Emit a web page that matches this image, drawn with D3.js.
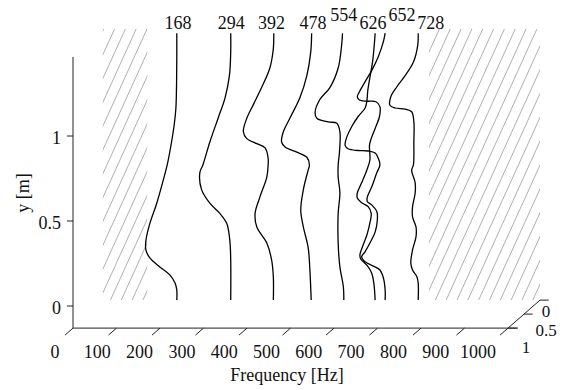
<!DOCTYPE html>
<html><head><meta charset="utf-8">
<script src="https://cdn.jsdelivr.net/npm/d3@7/dist/d3.min.js"></script>
<style>body{margin:0;background:#fff}svg{display:block}</style>
</head><body>
<script>
// ---- data (frequency [Hz], y [m]) ----
const curveLabels = ["168","294","392","478","554","626","652","728"];
const labelFreq = [168, 290, 383, 478, 549, 616, 683, 749];
const labelLevel = [1.465, 1.465, 1.465, 1.465, 1.51, 1.465, 1.51, 1.465];
const freqTicks = [0,100,200,300,400,500,600,700,800,900,1000];
const yTicks = [0, 0.5, 1];
const depthTicks = [0, 0.5, 1];
const hatchRanges = [[-5, 97], [745, 1000]];

const curve168 = [[165,1.44],[165,1.29],[163,1.00],[159,0.90],[153,0.80],[143,0.665],[134,0.576],[119,0.44],[103,0.32],[94,0.22],[94,0.165],[103,0.118],[126,0.065],[149,0.018],[161,-0.03],[165,-0.07],[165,-0.13]];
const curve294 = [[289,1.44],[289,1.33],[286,1.19],[276,1.06],[260,0.94],[241,0.80],[225,0.665],[218,0.62],[222,0.52],[241,0.44],[264,0.38],[280,0.32],[287,0.22],[289,0.106],[289,-0.13]];
const curve392 = [[388,1.44],[387,1.35],[379,1.235],[360,1.12],[341,1.02],[326,0.94],[318,0.86],[326,0.82],[349,0.79],[368,0.765],[375,0.706],[375,0.665],[372,0.594],[356,0.476],[345,0.38],[349,0.30],[372,0.206],[383,0.106],[387,0.006],[387,-0.13]];
const curve478 = [[475,1.44],[473,1.33],[464,1.19],[448,1.06],[425,0.94],[410,0.86],[406,0.80],[414,0.77],[441,0.74],[464,0.71],[470,0.665],[467,0.635],[456,0.52],[450,0.40],[456,0.30],[467,0.18],[471,0.047],[474,-0.13]];
const curve554 = [[546,1.44],[544,1.37],[536,1.235],[517,1.12],[494,1.05],[483,0.976],[487,0.94],[513,0.918],[533,0.91],[540,0.86],[539,0.74],[536,0.665],[536,0.594],[540,0.50],[536,0.38],[536,0.206],[540,0.065],[548,-0.053],[549,-0.13]];
const curve626 = [[621,1.44],[619,1.37],[615,1.27],[609,1.18],[604,1.10],[602,1.04],[598,1.00],[582,0.95],[567,0.89],[556,0.83],[552,0.78],[559,0.76],[582,0.75],[605,0.747],[621,0.735],[628,0.706],[632,0.665],[625,0.62],[613,0.535],[603,0.476],[603,0.45],[613,0.43],[625,0.39],[626,0.34],[621,0.27],[609,0.206],[598,0.155],[590,0.124],[598,0.096],[617,0.07],[632,0.047],[640,0.0],[644,-0.07],[644,-0.13]];
const curve652 = [[644,1.44],[640,1.39],[628,1.30],[613,1.22],[598,1.155],[585,1.096],[580,1.066],[585,1.047],[602,1.04],[623,1.037],[632,1.008],[631,0.95],[621,0.88],[612,0.82],[608,0.78],[609,0.694],[602,0.635],[590,0.56],[580,0.50],[580,0.47],[590,0.443],[605,0.42],[612,0.38],[609,0.324],[602,0.253],[592,0.184],[586,0.135],[588,0.112],[602,0.076],[613,0.03],[618,-0.03],[621,-0.13]];
const curve728 = [[720,1.44],[719,1.37],[709,1.27],[690,1.19],[671,1.125],[657,1.066],[655,1.016],[667,1.00],[690,0.994],[705,0.978],[710,0.92],[710,0.80],[709,0.665],[705,0.635],[713,0.56],[713,0.50],[707,0.42],[707,0.36],[715,0.30],[715,0.243],[707,0.165],[703,0.088],[707,0.047],[717,0.008],[720,-0.03],[720,-0.13]];
const curves = [curve168, curve294, curve392, curve478, curve554, curve626, curve652, curve728];

// ---- layout ----
const W = 565, H = 390;
const FONT = "'Liberation Serif', 'DejaVu Serif', 'Times New Roman', Times, serif";
const zMin = -0.13, zMax = 1.465;
const xF = d3.scaleLinear().domain([0, 1000]).range([73, 508]);
const yZ = d3.scaleLinear().domain([0, 1]).range([306, 136]);
const dX = d3.scaleLinear().domain([1, 0]).range([0, 32]);
const dY = d3.scaleLinear().domain([1, 0]).range([0, -28]);
const P = (f, d, z) => [xF(f) + dX(d), yZ(z) + dY(d)];
const xLab = d3.scaleLinear().domain([0, 1000]).range([55, 478]);

const svg = d3.select("body").append("svg").attr("width", W).attr("height", H)
  .attr("font-family", FONT);
svg.append("rect").attr("width", W).attr("height", H).attr("fill", "#fff");

const txt = (x, y, s, anchor, size) => svg.append("text").attr("x", x).attr("y", y)
  .attr("text-anchor", anchor || "middle").attr("font-family", FONT)
  .attr("font-size", size || 18).attr("fill", "#111").text(s);

// hatched back-plane regions
const defs = svg.append("defs");
hatchRanges.forEach((r, i) => {
  const a = P(r[0], 0, zMax), b = P(r[1], 0, zMin);
  defs.append("clipPath").attr("id", "hc" + i).append("rect")
    .attr("x", a[0]).attr("y", a[1]).attr("width", b[0] - a[0]).attr("height", b[1] - a[1]);
  const g = svg.append("g").attr("clip-path", `url(#hc${i})`);
  const step = 10.83, slope = 2.2;
  const topY = a[1] - 1;
  d3.range(-2, 40).forEach(k => {
    const xt = 115 + step * (k + Math.round((a[0] - 115) / step));
    if (xt > b[0] + 200) return;
    g.append("line")
      .attr("x1", xt).attr("y1", topY)
      .attr("x2", xt - (b[1] - topY + 2) / slope).attr("y2", b[1] + 2)
      .attr("stroke", "#9a9a9a").attr("stroke-width", 0.8);
  });
});

// axes
const axisCol = "#222";
const seg = (a, b) => svg.append("line").attr("x1", a[0]).attr("y1", a[1]).attr("x2", b[0]).attr("y2", b[1])
  .attr("stroke", axisCol).attr("stroke-width", 1);
seg(P(0, 1, zMin), P(0, 1, zMax));
seg(P(0, 1, zMin), P(1023, 1, zMin));
seg(P(1000, 1, zMin), P(1000, 0, zMin));

// y ticks
yTicks.forEach(t => {
  const a = P(0, 1, t), b = P(-14, 1, t);
  seg(a, b);
  txt(b[0] - 6, a[1] + 7.5, t, "end");
});
// x ticks
freqTicks.forEach(t => {
  seg(P(t, 1, zMin), P(t, 1.25, zMin));
  txt(xLab(t), 358, t);
});
// depth ticks
const depthLabelOffset = [[6, 17], [22, 22], [18, 25]];
depthTicks.forEach((t, i) => {
  const a = P(1000, t, zMin);
  seg(a, P(1020, t, zMin));
  txt(a[0] + depthLabelOffset[i][0], a[1] + depthLabelOffset[i][1], t, "middle", 17);
});

// axis titles
txt(287, 381, "Frequency [Hz]");
svg.append("text").attr("transform", "translate(29,193) rotate(-90)").attr("text-anchor", "middle")
  .attr("font-family", FONT).attr("font-size", 18).attr("fill", "#111").text("y [m]");

// curves
const line = d3.line()
  .x(d => P(d[0], 0, d[1])[0])
  .y(d => P(d[0], 0, d[1])[1])
  .curve(d3.curveCatmullRom.alpha(0.5));
svg.append("g").selectAll("path").data(curves).join("path")
  .attr("d", line).attr("fill", "none").attr("stroke", "#000").attr("stroke-width", 1.3);

// curve labels
curveLabels.forEach((lab, i) => {
  const p = P(labelFreq[i], 0, labelLevel[i]);
  txt(p[0], p[1], lab);
});
</script>
</body></html>
